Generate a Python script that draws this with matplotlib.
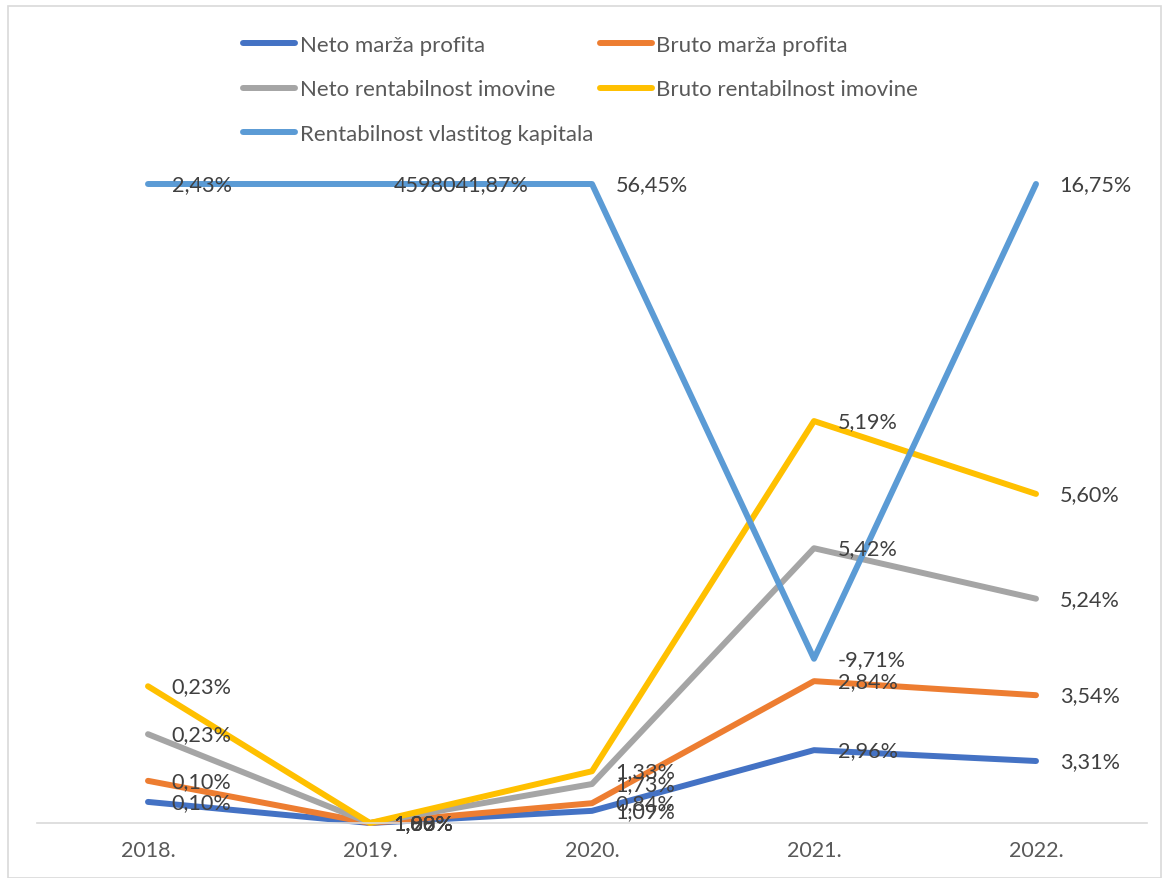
import matplotlib.pyplot as plt
from matplotlib.patches import Rectangle

plt.rcParams['font.family'] = ['Lato', 'DejaVu Sans']

years = ["2018.", "2019.", "2020.", "2021.", "2022."]

# plotted heights (chart units, axis top = 10, values above are clipped by the original chart)
neto_marza = [0.33, 0.0, 0.19, 1.14, 0.97]
bruto_marza = [0.66, 0.0, 0.31, 2.22, 2.00]
neto_rent_imov = [1.39, 0.0, 0.61, 4.30, 3.51]
bruto_rent_imov = [2.14, 0.0, 0.81, 6.29, 5.15]
rent_kapitala = [10.0, 10.0, 10.0, 2.57, 10.0]

# data labels as printed in the chart
lbl_neto_marza = ["0,10%", "1,89%", "1,09%", "2,96%", "3,31%"]
lbl_bruto_marza = ["0,10%", "1,00%", "0,84%", "2,84%", "3,54%"]
lbl_neto_rent_imov = ["0,23%", "1,88%", "1,73%", "5,42%", "5,24%"]
lbl_bruto_rent_imov = ["0,23%", "1,98%", "1,33%", "5,19%", "5,60%"]
lbl_rent_kapitala = ["2,43%", "4598041,87%", "56,45%", "-9,71%", "16,75%"]

series = [
    ("Neto marža profita", neto_marza, lbl_neto_marza, "#4472C4"),
    ("Bruto marža profita", bruto_marza, lbl_bruto_marza, "#ED7D31"),
    ("Neto rentabilnost imovine", neto_rent_imov, lbl_neto_rent_imov, "#A5A5A5"),
    ("Bruto rentabilnost imovine", bruto_rent_imov, lbl_bruto_rent_imov, "#FFC000"),
    ("Rentabilnost vlastitog kapitala", rent_kapitala, lbl_rent_kapitala, "#5B9BD5"),
]

fig = plt.figure(figsize=(11.63, 8.79), dpi=100)
ax = fig.add_axes([37 / 1163, 1 - 824 / 879, 1110 / 1163, 639 / 879])

x = list(range(len(years)))
handles = {}
for name, vals, labels, color in series:
    line, = ax.plot(x, vals, color=color, linewidth=4.3, solid_capstyle='round',
                    solid_joinstyle='round', clip_on=False, label=name)
    handles[name] = line
    for xi, yi, t in zip(x, vals, labels):
        ax.annotate(t, (xi, yi), xytext=(17, 0), textcoords='offset points',
                    ha='left', va='center', fontsize=15.6, color='#404040')

ax.set_xlim(-0.5, 4.5)
ax.set_ylim(0, 10)
ax.set_xticks(x)
ax.set_xticklabels(years, fontsize=15.5, color='#595959')
ax.tick_params(axis='x', length=0, pad=12.5)
ax.set_yticks([])
for s in ['top', 'right', 'left']:
    ax.spines[s].set_visible(False)
ax.spines['bottom'].set_color('#D9D9D9')
ax.spines['bottom'].set_linewidth(1.2)

order = ["Neto marža profita", "Neto rentabilnost imovine", "Rentabilnost vlastitog kapitala",
         "Bruto marža profita", "Bruto rentabilnost imovine"]
leg = fig.legend([handles[n] for n in order], order, ncol=2, loc='upper left',
                 bbox_to_anchor=(223 / 1163, 1 - 16 / 879), frameon=False, fontsize=16,
                 handlelength=2.35, handletextpad=0.2, labelspacing=1.1, columnspacing=0.3)
for t in leg.get_texts():
    t.set_color('#595959')

fig.add_artist(Rectangle((8 / 1163, 0.0), 1153 / 1163, 1 - 7 / 879, transform=fig.transFigure,
                         fill=False, edgecolor='#D9D9D9', linewidth=1.2))

fig.savefig("out.png", dpi=100)
